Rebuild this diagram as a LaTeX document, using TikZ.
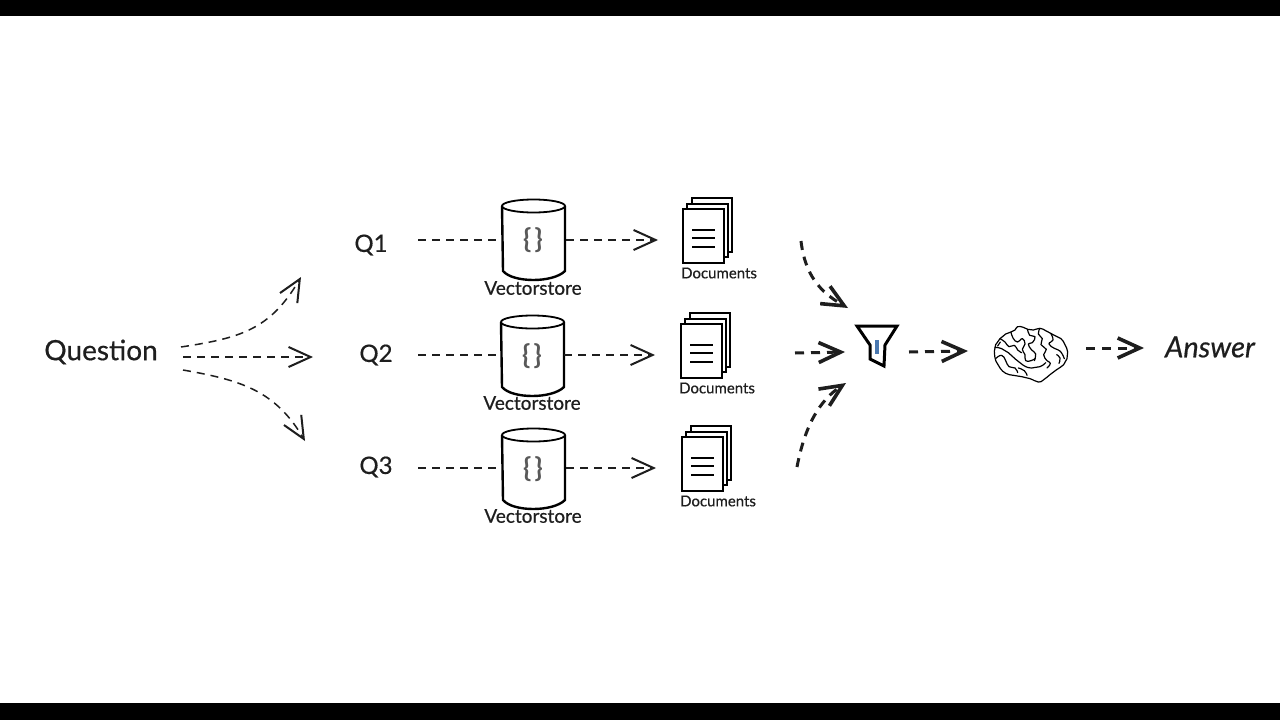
\documentclass[tikz,border=0pt]{standalone}
\usepackage{fontspec}
\setmainfont{Lato}
\usetikzlibrary{arrows.meta}
\definecolor{ink}{HTML}{1E1E1E}
\definecolor{funnelblue}{HTML}{4A78B0}
\newcommand{\heavy}{\addfontfeature{FakeBold=0.5}}
\tikzset{
  big label/.style={font=\fontsize{28}{30}\selectfont\heavy, text=ink, inner sep=0pt},
  q label/.style={font=\fontsize{24}{26}\selectfont\heavy, text=ink, inner sep=0pt},
  small label/.style={font=\fontsize{19}{21}\selectfont\heavy, text=ink, inner sep=0pt},
  tiny label/.style={font=\fontsize{15}{17}\selectfont\heavy, text=ink, inner sep=0pt},
  thin flow/.style={draw=ink, line width=1.5pt, dash pattern=on 8pt off 6pt, -{Straight Barb[length=22pt,width=20pt,line width=2pt]}},
  thin line/.style={draw=ink, line width=1.5pt, dash pattern=on 8pt off 6pt},
  thick flow/.style={draw=ink, line width=3pt, dash pattern=on 9pt off 7pt, -{Straight Barb[length=22pt,width=20pt,line width=3.6pt]}},
  sheet/.style={draw=black, fill=white, line width=1.8pt},
}
\newcommand{\vstore}[4]{%
  \begin{scope}[shift={(#1,#2)}]
    \draw[black,line width=2.4pt,fill=white] (-31,7) -- (-30,72) .. controls (-20,84) and (20,84) .. (32,72) -- (32,7);
    \draw[black,line width=1.8pt,fill=white] (0.5,7) ellipse[x radius=31.5,y radius=6.5];
    \node[font=\fontsize{27}{29}\selectfont\bfseries,text=black!65] at (0,41) {\{\kern3pt\}};
  \end{scope}
  \node[small label] (#3) at (#1,#4) {Vectorstore};}
\newcommand{\docs}[3]{%
  \begin{scope}[shift={(#1,#2)}]
    \draw[sheet] (9,-11) rectangle (49,43);
    \draw[sheet] (4,-5) rectangle (45,48);
    \draw[sheet] (0,0) rectangle (41,54);
    \draw[black,line width=1.6pt] (9,21) -- (32,21) (9,29) -- (32,29) (9,38) -- (32,38);
  \end{scope}
  \node[tiny label] (#3) at (#1+36,#2+64) {Documents};}
\begin{document}
\begin{tikzpicture}[x=1pt,y=-1pt]
\useasboundingbox (0,0) rectangle (1280,720);
\fill[white] (0,0) rectangle (1280,720);
\fill[black] (0,0) rectangle (1280,16);
\fill[black] (0,703) rectangle (1280,720);

\node[big label] (question) at (101,352) {Question};
\node[q label] (q1) at (371,245) {Q1};
\node[q label] (q2) at (376,355) {Q2};
\node[q label] (q3) at (376,467) {Q3};
\node[big label,font=\fontsize{29}{31}\selectfont\itshape\heavy] (answer) at (1210,347) {Answer};

\vstore{533}{199}{v1}{288}
\vstore{532}{315}{v2}{403}
\vstore{533}{428}{v3}{516}
\docs{683}{209}{d1}
\docs{681}{324}{d2}
\docs{682}{437}{d3}

% Question fan
\coordinate (fa) at (181,347); \coordinate (fat) at (301,277);
\coordinate (fb) at (183,357); \coordinate (fbt) at (313,357);
\coordinate (fc) at (183,370); \coordinate (fct) at (305,441);
\draw[thin flow] (fa) .. controls (240,338) and (270,330) .. (fat);
\draw[thin flow] (fb) -- (fbt);
\draw[thin flow] (fc) .. controls (240,380) and (275,390) .. (fct);

% Store rows
\coordinate (a1) at (418,240); \coordinate (b1) at (502,240); \coordinate (c1) at (566,240); \coordinate (e1) at (658,240);
\coordinate (a2) at (418,355); \coordinate (b2) at (500,355); \coordinate (c2) at (564,355); \coordinate (e2) at (655,355);
\coordinate (a3) at (418,468); \coordinate (b3) at (502,468); \coordinate (c3) at (566,468); \coordinate (e3) at (656,468);
\draw[thin line] (a1) -- (b1); \draw[thin flow] (c1) -- (e1);
\draw[thin line] (a2) -- (b2); \draw[thin flow] (c2) -- (e2);
\draw[thin line] (a3) -- (b3); \draw[thin flow] (c3) -- (e3);

% Thick arrows
\coordinate (t1) at (801,241); \coordinate (t1e) at (848,308);
\coordinate (t2) at (795,353); \coordinate (t2e) at (845,352);
\coordinate (t3) at (797,467); \coordinate (t3e) at (846,383);
\coordinate (t4) at (909,352); \coordinate (t4e) at (968,351);
\coordinate (t5) at (1086,348); \coordinate (t5e) at (1144,348);
\draw[thick flow] (t1) .. controls (805,275) and (820,292) .. (t1e);
\draw[thick flow] (t2) -- (t2e);
\draw[thick flow] (t3) .. controls (805,425) and (820,400) .. (t3e);
\draw[thick flow] (t4) -- (t4e);
\draw[thick flow] (t5) -- (t5e);

% Funnel
\draw[black,line width=3pt,line join=miter] (857,326) -- (897,326) -- (885,345) -- (884,366) -- (870,359) -- (870,345) -- cycle;
\draw[funnelblue,line width=3.4pt] (877,340) -- (877,354);

% Brain
\begin{scope}[shift={(985,318)},x=.3333pt,y=-.3333pt,black,line width=1.2pt,line cap=round,line join=round]
\draw[fill=white] plot[smooth cycle,tension=.8] coordinates {(28,100) (32,80) (45,62) (62,48) (78,42) (90,36) (98,26) (115,28) (128,34) (145,36) (165,31) (182,38) (197,46) (212,54) (228,62) (240,80) (248,102) (246,122) (236,140) (215,155) (195,170) (175,186) (160,192) (135,182) (110,176) (85,172) (62,166) (45,150) (33,130)};
\draw plot[smooth,tension=.9] coordinates {(45,62) (60,72) (72,86) (88,82) (98,96) (110,104)};
\draw plot[smooth,tension=.9] coordinates {(78,42) (84,60) (98,72) (112,62) (120,78) (112,94) (120,110) (122,128) (138,128) (150,122)};
\draw plot[smooth,tension=.9] coordinates {(128,34) (134,52) (150,56) (142,74) (130,78) (140,96) (152,108) (148,128)};
\draw plot[smooth,tension=.9] coordinates {(165,31) (160,48) (172,62) (168,80) (184,94) (176,110) (186,128) (196,136) (186,150)};
\draw plot[smooth,tension=.9] coordinates {(197,46) (204,66) (192,78) (210,92) (226,100) (238,122)};
\draw plot[smooth,tension=.9] coordinates {(30,88) (50,92) (70,104) (92,124) (115,142) (140,150) (165,146) (182,134)};
\draw plot[smooth,tension=.9] coordinates {(32,122) (50,112) (62,128) (72,146) (90,150) (98,164)};
\draw plot[smooth,tension=.9] coordinates {(100,150) (118,158) (126,172)};
\draw plot[smooth,tension=.9] coordinates {(215,110) (225,120) (222,136)};
\draw plot[smooth,tension=.9] coordinates {(46,72) (38,84)};
\end{scope}
\end{tikzpicture}
\end{document}
